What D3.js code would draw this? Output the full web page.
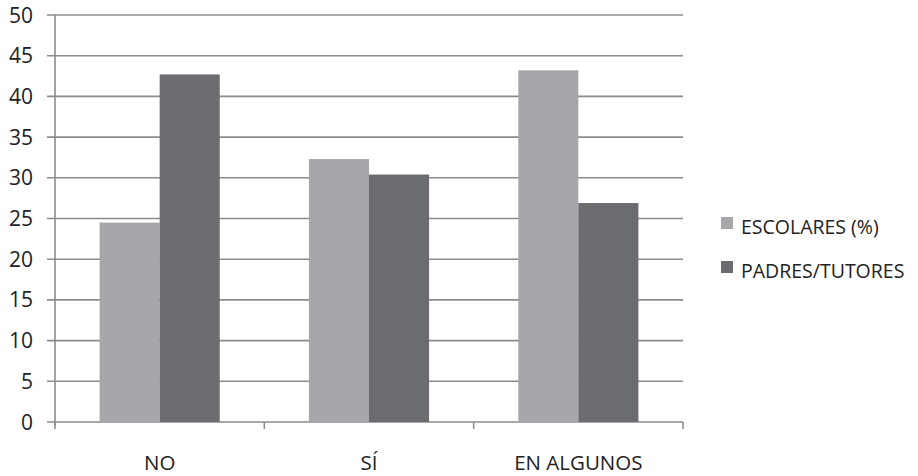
<!DOCTYPE html>
<html>
<head>
<meta charset="utf-8">
<script src="https://cdn.jsdelivr.net/npm/d3@7"></script>
<style>
  html, body { margin: 0; padding: 0; background: #fff; }
  svg text { font-family: "Open Sans", Lato, sans-serif; fill: #222; }
</style>
</head>
<body>
<svg id="chart" width="918" height="476"></svg>
<script>
// Respuestas por categoría
const categories = ["NO", "SÍ", "EN ALGUNOS"];
const seriesNames = ["ESCOLARES (%)", "PADRES/TUTORES"];
const escolares = [24.5, 32.3, 43.2];
const padres = [42.7, 30.4, 26.9];
const yTicks = [0, 5, 10, 15, 20, 25, 30, 35, 40, 45, 50];
const colors = ["#a6a7ab", "#6b6c70"];

const svg = d3.select("#chart");
const plot = { left: 55, right: 683, top: 15, bottom: 422 };

const x = d3.scaleBand()
  .domain(categories)
  .range([plot.left, plot.right])
  .paddingInner(0)
  .paddingOuter(0);

const bandW = x.bandwidth();
const groupPad = 0.213;
const xInner = d3.scaleBand()
  .domain(seriesNames)
  .range([bandW * groupPad, bandW * (1 - groupPad)]);

const y = d3.scaleLinear().domain([0, 50]).range([plot.bottom, plot.top]);

const gridColor = "#8c8c8c";

// horizontal gridlines
svg.append("g")
  .selectAll("line")
  .data(yTicks)
  .join("line")
  .attr("x1", plot.left - 8)
  .attr("x2", plot.right)
  .attr("y1", d => y(d))
  .attr("y2", d => y(d))
  .attr("stroke", gridColor)
  .attr("stroke-width", 1.6);

// bars
const rows = categories.map((c, i) => ({ cat: c, vals: [escolares[i], padres[i]] }));
svg.append("g")
  .selectAll("g")
  .data(rows)
  .join("g")
  .attr("transform", d => `translate(${x(d.cat)},0)`)
  .selectAll("rect")
  .data(d => d.vals.map((v, j) => ({ name: seriesNames[j], v, j })))
  .join("rect")
  .attr("x", d => xInner(d.name))
  .attr("width", xInner.bandwidth())
  .attr("y", d => y(d.v))
  .attr("height", d => y(0) - y(d.v))
  .attr("fill", d => colors[d.j]);

// y axis line
svg.append("line")
  .attr("x1", plot.left).attr("x2", plot.left)
  .attr("y1", plot.top).attr("y2", plot.bottom + 4)
  .attr("stroke", gridColor).attr("stroke-width", 1.6);

// x axis ticks at category boundaries
const bounds = categories.map(c => x(c)).concat([plot.right]);
svg.append("g")
  .selectAll("line")
  .data(bounds)
  .join("line")
  .attr("x1", d => d).attr("x2", d => d)
  .attr("y1", plot.bottom).attr("y2", plot.bottom + 7)
  .attr("stroke", gridColor).attr("stroke-width", 1.6);

// y tick labels
svg.append("g")
  .selectAll("text")
  .data(yTicks)
  .join("text")
  .attr("x", 33)
  .attr("y", d => y(d))
  .attr("dy", "0.36em")
  .attr("text-anchor", "end")
  .attr("font-size", 21)
  .text(d => d);

// category labels
svg.append("g")
  .selectAll("text")
  .data(categories)
  .join("text")
  .attr("x", d => x(d) + bandW / 2)
  .attr("y", 470)
  .attr("text-anchor", "middle")
  .attr("font-size", 20.5)
  .text(d => d);

// legend
const legend = svg.append("g").attr("transform", "translate(721,217)");
const li = legend.selectAll("g")
  .data(seriesNames)
  .join("g")
  .attr("transform", (d, i) => `translate(0,${i * 44})`);
li.append("rect")
  .attr("width", 12).attr("height", 12)
  .attr("fill", (d, i) => colors[i]);
li.append("text")
  .attr("x", 20)
  .attr("y", 16.5)
  .attr("font-size", 19.5)
  .text(d => d);
</script>
</body>
</html>
